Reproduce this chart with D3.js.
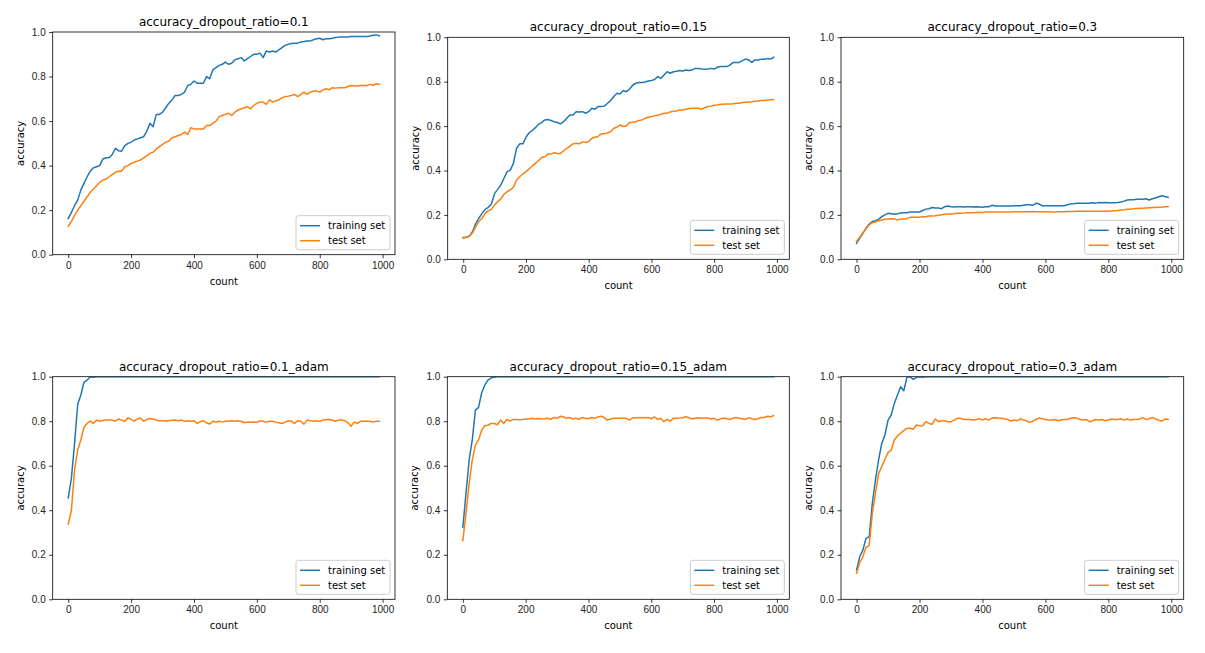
<!DOCTYPE html>
<html>
<head>
<meta charset="utf-8">
<script src="https://cdn.jsdelivr.net/npm/d3@7.9.0/dist/d3.min.js"></script>
<style>
  body { margin: 0; background: #fff; }
  svg { display: block; font-family: 'DejaVu Sans', sans-serif; }
  .tick text { font-size: 10px; fill: #222; }
</style>
</head>
<body>
<svg id="chart" width="1205" height="653"></svg>
<script>
// x values: evaluation count, every 10 steps
const counts = d3.range(0, 1000, 10);
const xTicks = [0, 200, 400, 600, 800, 1000];
const yTicks = [0.0, 0.2, 0.4, 0.6, 0.8, 1.0];
const seriesNames = ['training set', 'test set'];

// accuracy values, one value per count
const train01 = [
  0.163, 0.19, 0.22, 0.245, 0.29, 0.32, 0.35, 0.375, 0.39, 0.395,
  0.40, 0.43, 0.435, 0.435, 0.45, 0.478, 0.467, 0.465, 0.49, 0.50,
  0.505, 0.515, 0.52, 0.525, 0.53, 0.555, 0.59, 0.575, 0.63, 0.63,
  0.64, 0.66, 0.68, 0.695, 0.715, 0.715, 0.72, 0.73, 0.76, 0.765,
  0.78, 0.77, 0.77, 0.77, 0.80, 0.79, 0.83, 0.84, 0.85, 0.855,
  0.865, 0.855, 0.86, 0.875, 0.88, 0.885, 0.87, 0.88, 0.89, 0.90,
  0.90, 0.905, 0.885, 0.915, 0.91, 0.915, 0.91, 0.92, 0.93, 0.94,
  0.945, 0.948, 0.95, 0.95, 0.955, 0.957, 0.96, 0.96, 0.965, 0.97,
  0.972, 0.965, 0.97, 0.97, 0.972, 0.975, 0.977, 0.978, 0.978, 0.978,
  0.98, 0.98, 0.98, 0.98, 0.98, 0.98, 0.982, 0.985, 0.987, 0.983
];
const test01 = [
  0.128, 0.15, 0.175, 0.20, 0.22, 0.24, 0.26, 0.28, 0.295, 0.31,
  0.325, 0.335, 0.34, 0.35, 0.36, 0.37, 0.375, 0.375, 0.395, 0.40,
  0.41, 0.415, 0.42, 0.425, 0.435, 0.445, 0.455, 0.46, 0.475, 0.485,
  0.495, 0.505, 0.51, 0.525, 0.53, 0.535, 0.54, 0.55, 0.54, 0.57,
  0.565, 0.565, 0.565, 0.565, 0.58, 0.58, 0.59, 0.60, 0.62, 0.625,
  0.63, 0.635, 0.625, 0.64, 0.65, 0.655, 0.66, 0.665, 0.655, 0.67,
  0.68, 0.685, 0.685, 0.675, 0.695, 0.685, 0.69, 0.695, 0.705, 0.71,
  0.712, 0.715, 0.72, 0.71, 0.72, 0.73, 0.72, 0.73, 0.735, 0.735,
  0.73, 0.74, 0.745, 0.74, 0.75, 0.748, 0.75, 0.75, 0.75, 0.755,
  0.76, 0.758, 0.758, 0.76, 0.76, 0.76, 0.765, 0.76, 0.768, 0.765
];
const train015 = [
  0.098, 0.099, 0.105, 0.125, 0.162, 0.185, 0.207, 0.225, 0.234, 0.249,
  0.297, 0.315, 0.335, 0.365, 0.395, 0.402, 0.432, 0.50, 0.52, 0.52,
  0.55, 0.57, 0.58, 0.593, 0.608, 0.616, 0.628, 0.63, 0.625, 0.62,
  0.616, 0.61, 0.62, 0.635, 0.65, 0.65, 0.665, 0.664, 0.665, 0.658,
  0.665, 0.68, 0.676, 0.688, 0.688, 0.69, 0.703, 0.715, 0.733, 0.748,
  0.745, 0.76, 0.755, 0.766, 0.784, 0.793, 0.796, 0.796, 0.799, 0.803,
  0.805, 0.81, 0.823, 0.815, 0.83, 0.845, 0.838, 0.845, 0.847, 0.85,
  0.848, 0.853, 0.85, 0.853, 0.86, 0.86, 0.857, 0.856, 0.857, 0.86,
  0.857, 0.865, 0.868, 0.868, 0.868, 0.875, 0.886, 0.887, 0.887, 0.895,
  0.902, 0.898, 0.887, 0.898, 0.898, 0.901, 0.901, 0.904, 0.902, 0.91
];
const test015 = [
  0.095, 0.099, 0.105, 0.12, 0.147, 0.17, 0.185, 0.207, 0.219, 0.225,
  0.245, 0.26, 0.272, 0.293, 0.305, 0.312, 0.324, 0.357, 0.372, 0.384,
  0.395, 0.407, 0.42, 0.432, 0.444, 0.459, 0.462, 0.474, 0.474, 0.48,
  0.477, 0.477, 0.489, 0.50, 0.51, 0.52, 0.523, 0.52, 0.529, 0.526,
  0.53, 0.545, 0.55, 0.553, 0.565, 0.565, 0.57, 0.575, 0.59, 0.595,
  0.605, 0.598, 0.60, 0.616, 0.617, 0.62, 0.625, 0.628, 0.635, 0.64,
  0.643, 0.646, 0.649, 0.653, 0.658, 0.658, 0.664, 0.667, 0.668, 0.673,
  0.673, 0.676, 0.679, 0.68, 0.68, 0.68, 0.676, 0.683, 0.688, 0.69,
  0.694, 0.695, 0.698, 0.698, 0.70, 0.70, 0.701, 0.703, 0.703, 0.706,
  0.707, 0.709, 0.71, 0.712, 0.713, 0.715, 0.715, 0.718, 0.719, 0.72
];
const train03 = [
  0.072, 0.095, 0.117, 0.14, 0.159, 0.17, 0.174, 0.18, 0.192, 0.20,
  0.207, 0.205, 0.203, 0.205, 0.209, 0.21, 0.21, 0.213, 0.213, 0.213,
  0.213, 0.22, 0.226, 0.228, 0.233, 0.231, 0.231, 0.228, 0.237, 0.24,
  0.237, 0.236, 0.237, 0.237, 0.236, 0.237, 0.237, 0.236, 0.237, 0.236,
  0.234, 0.237, 0.237, 0.243, 0.24, 0.24, 0.24, 0.24, 0.24, 0.24,
  0.241, 0.241, 0.241, 0.243, 0.246, 0.246, 0.243, 0.252, 0.249, 0.241,
  0.241, 0.241, 0.241, 0.241, 0.241, 0.241, 0.241, 0.246, 0.249, 0.25,
  0.252, 0.252, 0.252, 0.253, 0.252, 0.255, 0.253, 0.256, 0.255, 0.256,
  0.255, 0.255, 0.255, 0.256, 0.258, 0.262, 0.267, 0.268, 0.268, 0.27,
  0.27, 0.271, 0.273, 0.267, 0.273, 0.276, 0.282, 0.286, 0.283, 0.279
];
const test03 = [
  0.08, 0.099, 0.12, 0.138, 0.155, 0.165, 0.168, 0.174, 0.177, 0.18,
  0.182, 0.183, 0.182, 0.177, 0.182, 0.182, 0.183, 0.189, 0.189, 0.189,
  0.189, 0.192, 0.192, 0.195, 0.195, 0.196, 0.198, 0.201, 0.203, 0.204,
  0.204, 0.205, 0.207, 0.207, 0.208, 0.21, 0.21, 0.21, 0.211, 0.211,
  0.211, 0.213, 0.213, 0.213, 0.213, 0.213, 0.213, 0.213, 0.213, 0.213,
  0.214, 0.214, 0.214, 0.214, 0.214, 0.214, 0.215, 0.214, 0.214, 0.214,
  0.214, 0.214, 0.213, 0.213, 0.214, 0.214, 0.214, 0.215, 0.215, 0.215,
  0.216, 0.216, 0.216, 0.216, 0.217, 0.217, 0.217, 0.217, 0.217, 0.217,
  0.217, 0.218, 0.219, 0.22, 0.222, 0.223, 0.225, 0.226, 0.228, 0.229,
  0.23, 0.23, 0.231, 0.232, 0.233, 0.233, 0.234, 0.235, 0.237, 0.238
];
const train01Adam = [
  0.456, 0.543, 0.70, 0.875, 0.918, 0.975, 0.985, 1.0, 0.997, 1.0,
  1.0, 1.0, 1.0, 1.0, 1.0, 1.0, 1.0, 1.0, 1.0, 1.0,
  1.0, 1.0, 1.0, 1.0, 1.0, 1.0, 1.0, 1.0, 1.0, 1.0,
  1.0, 1.0, 1.0, 1.0, 1.0, 1.0, 1.0, 1.0, 1.0, 1.0,
  1.0, 1.0, 1.0, 1.0, 1.0, 1.0, 1.0, 1.0, 1.0, 1.0,
  1.0, 1.0, 1.0, 1.0, 1.0, 1.0, 1.0, 1.0, 1.0, 1.0,
  1.0, 1.0, 1.0, 1.0, 1.0, 1.0, 1.0, 1.0, 1.0, 1.0,
  1.0, 1.0, 1.0, 1.0, 1.0, 1.0, 1.0, 1.0, 1.0, 1.0,
  1.0, 1.0, 1.0, 1.0, 1.0, 1.0, 1.0, 1.0, 1.0, 1.0,
  1.0, 1.0, 1.0, 1.0, 1.0, 1.0, 1.0, 1.0, 1.0, 1.0
];
const test01Adam = [
  0.338, 0.40, 0.58, 0.67, 0.716, 0.773, 0.79, 0.80, 0.79, 0.805,
  0.80, 0.803, 0.805, 0.805, 0.805, 0.80, 0.81, 0.805, 0.80, 0.815,
  0.808, 0.80, 0.81, 0.814, 0.80, 0.808, 0.812, 0.81, 0.805, 0.802,
  0.802, 0.80, 0.802, 0.804, 0.805, 0.802, 0.805, 0.80, 0.802, 0.80,
  0.802, 0.79, 0.798, 0.802, 0.793, 0.787, 0.80, 0.796, 0.80, 0.796,
  0.80, 0.80, 0.802, 0.80, 0.802, 0.80, 0.793, 0.796, 0.795, 0.796,
  0.795, 0.802, 0.80, 0.796, 0.80, 0.80, 0.796, 0.793, 0.79, 0.796,
  0.802, 0.80, 0.79, 0.802, 0.80, 0.787, 0.805, 0.802, 0.80, 0.802,
  0.80, 0.805, 0.807, 0.808, 0.805, 0.80, 0.805, 0.805, 0.802, 0.793,
  0.778, 0.796, 0.79, 0.80, 0.80, 0.80, 0.80, 0.796, 0.80, 0.80
];
const train015Adam = [
  0.323, 0.476, 0.626, 0.716, 0.85, 0.862, 0.928, 0.963, 0.985, 0.994,
  0.998, 1.0, 1.0, 1.0, 1.0, 1.0, 1.0, 1.0, 1.0, 1.0,
  1.0, 1.0, 1.0, 1.0, 1.0, 1.0, 1.0, 1.0, 1.0, 1.0,
  1.0, 1.0, 1.0, 1.0, 1.0, 1.0, 1.0, 1.0, 1.0, 1.0,
  1.0, 1.0, 1.0, 1.0, 1.0, 1.0, 1.0, 1.0, 1.0, 1.0,
  1.0, 1.0, 1.0, 1.0, 1.0, 1.0, 1.0, 1.0, 1.0, 1.0,
  1.0, 1.0, 1.0, 1.0, 1.0, 1.0, 1.0, 1.0, 1.0, 1.0,
  1.0, 1.0, 1.0, 1.0, 1.0, 1.0, 1.0, 1.0, 1.0, 1.0,
  1.0, 1.0, 1.0, 1.0, 1.0, 1.0, 1.0, 1.0, 1.0, 1.0,
  1.0, 1.0, 1.0, 1.0, 1.0, 1.0, 1.0, 1.0, 1.0, 1.0
];
const test015Adam = [
  0.263, 0.386, 0.52, 0.626, 0.693, 0.716, 0.76, 0.78, 0.782, 0.79,
  0.79, 0.784, 0.805, 0.79, 0.808, 0.80, 0.808, 0.808, 0.807, 0.808,
  0.81, 0.81, 0.813, 0.81, 0.812, 0.81, 0.811, 0.813, 0.808, 0.817,
  0.813, 0.822, 0.82, 0.813, 0.817, 0.81, 0.814, 0.808, 0.817, 0.813,
  0.811, 0.817, 0.813, 0.819, 0.823, 0.817, 0.805, 0.81, 0.813, 0.813,
  0.813, 0.813, 0.813, 0.805, 0.814, 0.816, 0.816, 0.817, 0.816, 0.817,
  0.811, 0.82, 0.808, 0.813, 0.798, 0.808, 0.80, 0.813, 0.813, 0.814,
  0.816, 0.82, 0.816, 0.81, 0.813, 0.816, 0.813, 0.814, 0.814, 0.81,
  0.813, 0.805, 0.81, 0.814, 0.811, 0.808, 0.813, 0.817, 0.813, 0.811,
  0.808, 0.816, 0.811, 0.808, 0.811, 0.817, 0.817, 0.822, 0.82, 0.825
];
const train03Adam = [
  0.132, 0.191, 0.221, 0.274, 0.281, 0.431, 0.536, 0.626, 0.70, 0.738,
  0.805, 0.828, 0.88, 0.918, 0.955, 0.937, 0.997, 1.0, 0.988, 0.997,
  1.0, 0.997, 1.0, 1.0, 1.0, 1.0, 1.0, 1.0, 1.0, 1.0,
  1.0, 1.0, 1.0, 1.0, 1.0, 1.0, 1.0, 1.0, 1.0, 1.0,
  1.0, 1.0, 1.0, 1.0, 1.0, 1.0, 1.0, 1.0, 1.0, 1.0,
  1.0, 1.0, 1.0, 1.0, 1.0, 1.0, 1.0, 1.0, 1.0, 1.0,
  1.0, 1.0, 1.0, 1.0, 1.0, 1.0, 1.0, 1.0, 1.0, 1.0,
  1.0, 1.0, 1.0, 1.0, 1.0, 1.0, 1.0, 1.0, 1.0, 1.0,
  1.0, 1.0, 1.0, 1.0, 1.0, 1.0, 1.0, 1.0, 1.0, 1.0,
  1.0, 1.0, 1.0, 1.0, 1.0, 1.0, 1.0, 1.0, 1.0, 1.0
];
const test03Adam = [
  0.117, 0.165, 0.191, 0.234, 0.241, 0.386, 0.476, 0.566, 0.596, 0.629,
  0.659, 0.67, 0.716, 0.734, 0.746, 0.758, 0.768, 0.768, 0.764, 0.783,
  0.779, 0.78, 0.798, 0.79, 0.786, 0.81, 0.798, 0.802, 0.802, 0.798,
  0.798, 0.805, 0.813, 0.813, 0.808, 0.808, 0.808, 0.805, 0.808, 0.811,
  0.805, 0.811, 0.805, 0.814, 0.816, 0.814, 0.813, 0.811, 0.808, 0.80,
  0.805, 0.802, 0.811, 0.805, 0.802, 0.795, 0.80, 0.808, 0.814, 0.811,
  0.808, 0.805, 0.805, 0.808, 0.802, 0.805, 0.808, 0.808, 0.813, 0.816,
  0.814, 0.808, 0.805, 0.808, 0.798, 0.802, 0.808, 0.805, 0.808, 0.802,
  0.805, 0.81, 0.808, 0.808, 0.811, 0.805, 0.81, 0.805, 0.808, 0.808,
  0.81, 0.816, 0.808, 0.811, 0.817, 0.81, 0.805, 0.80, 0.81, 0.808
];

const colors = ['#1f77b4', '#ff7f0e'];

const panels = [
  { title: 'accuracy_dropout_ratio=0.1', train: train01, test: test01, left: 52.7, right: 395, top: 32, bottom: 254.7 },
  { title: 'accuracy_dropout_ratio=0.15', train: train015, test: test015, left: 447.7, right: 789.3, top: 37.3, bottom: 259.3 },
  { title: 'accuracy_dropout_ratio=0.3', train: train03, test: test03, left: 841, right: 1183.7, top: 37.3, bottom: 259.3 },
  { title: 'accuracy_dropout_ratio=0.1_adam', train: train01Adam, test: test01Adam, left: 52.7, right: 395, top: 376.7, bottom: 599.3 },
  { title: 'accuracy_dropout_ratio=0.15_adam', train: train015Adam, test: test015Adam, left: 447.3, right: 789.3, top: 376.7, bottom: 599.3 },
  { title: 'accuracy_dropout_ratio=0.3_adam', train: train03Adam, test: test03Adam, left: 841, right: 1183.7, top: 376.7, bottom: 599.3 },
];

const svg = d3.select('#chart');

function renderPanel(p, i) {
  const w = p.right - p.left;
  const h = p.bottom - p.top;

  // matplotlib default 5% margin on x
  const span = 990 - 0;
  const xScale = d3.scaleLinear()
    .domain([-span * 0.05, 990 + span * 0.05])
    .range([p.left, p.right]);
  const yScale = d3.scaleLinear().domain([0, 1]).range([p.bottom, p.top]);

  const g = svg.append('g');

  // clip lines to the axes box
  g.append('clipPath')
    .attr('id', 'clip' + i)
    .append('rect')
    .attr('x', p.left).attr('y', p.top)
    .attr('width', w).attr('height', h);

  const line = d3.line()
    .x((d) => xScale(d[0]))
    .y((d) => yScale(d[1]));

  const series = [p.train, p.test];
  series.forEach((values, k) => {
    g.append('path')
      .datum(counts.map((c, j) => [c, values[j]]))
      .attr('clip-path', `url(#clip${i})`)
      .attr('fill', 'none')
      .attr('stroke', colors[k])
      .attr('stroke-width', 1.5)
      .attr('stroke-linejoin', 'round')
      .attr('stroke-linecap', 'square')
      .attr('d', line);
  });

  // axes
  const xAxis = d3.axisBottom(xScale).tickValues(xTicks).tickSize(3.5).tickPadding(3.5)
    .tickFormat(d3.format('d'));
  const yAxis = d3.axisLeft(yScale).tickValues(yTicks).tickSize(3.5).tickPadding(3.5)
    .tickFormat(d3.format('.1f'));

  g.append('g')
    .attr('transform', `translate(0, ${p.bottom})`)
    .call(xAxis)
    .call((a) => a.select('.domain').remove())
    .call((a) => a.selectAll('line').attr('stroke', '#000').attr('stroke-width', 0.8));

  g.append('g')
    .attr('transform', `translate(${p.left}, 0)`)
    .call(yAxis)
    .call((a) => a.select('.domain').remove())
    .call((a) => a.selectAll('line').attr('stroke', '#000').attr('stroke-width', 0.8));

  // spines on top of lines
  g.append('rect')
    .attr('x', p.left).attr('y', p.top)
    .attr('width', w).attr('height', h)
    .attr('fill', 'none')
    .attr('stroke', '#000')
    .attr('stroke-width', 0.8);

  // title + labels
  g.append('text')
    .attr('x', (p.left + p.right) / 2)
    .attr('y', p.top - 6)
    .attr('text-anchor', 'middle')
    .style('font-size', '12px')
    .attr('fill', '#000')
    .text(p.title);

  g.append('text')
    .attr('x', (p.left + p.right) / 2)
    .attr('y', p.bottom + 30)
    .attr('text-anchor', 'middle')
    .style('font-size', '10px')
    .attr('fill', '#000')
    .text('count');

  g.append('text')
    .attr('transform', `translate(${p.left - 29}, ${(p.top + p.bottom) / 2}) rotate(-90)`)
    .attr('text-anchor', 'middle')
    .style('font-size', '10px')
    .attr('fill', '#000')
    .text('accuracy');

  renderLegend(g, p);
}

function renderLegend(g, p) {
  const boxW = 94;
  const boxH = 34;
  const x0 = p.right - 5 - boxW;
  const y0 = p.bottom - 5 - boxH;

  const lg = g.append('g').attr('transform', `translate(${x0}, ${y0})`);
  lg.append('rect')
    .attr('width', boxW).attr('height', boxH)
    .attr('rx', 2.5)
    .attr('fill', '#fff').attr('fill-opacity', 0.8)
    .attr('stroke', '#ccc').attr('stroke-width', 1);

  seriesNames.forEach((name, k) => {
    const cy = 10 + k * 15;
    lg.append('line')
      .attr('x1', 4).attr('x2', 24)
      .attr('y1', cy).attr('y2', cy)
      .attr('stroke', colors[k]).attr('stroke-width', 1.5);
    lg.append('text')
      .attr('x', 32).attr('y', cy)
      .attr('dy', '0.35em')
      .style('font-size', '10px')
      .attr('fill', '#000')
      .text(name);
  });
}

panels.forEach(renderPanel);
</script>
</body>
</html>
